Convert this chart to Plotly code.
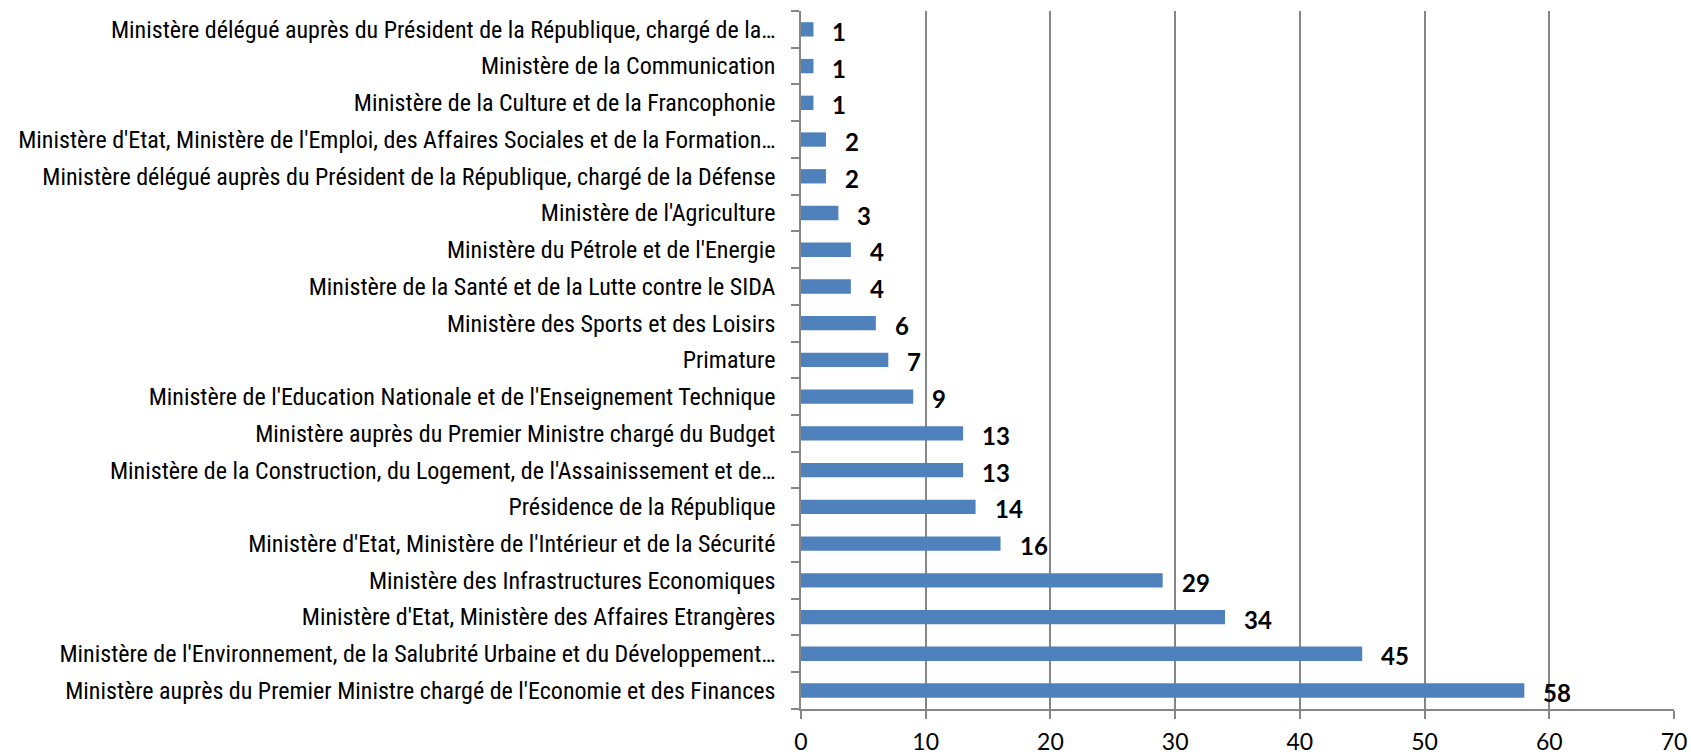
import plotly.graph_objects as go

categories = [
    "Ministère auprès du Premier Ministre chargé de l'Economie et des Finances",
    "Ministère de l'Environnement, de la Salubrité Urbaine et du Développement…",
    "Ministère d'Etat, Ministère des Affaires Etrangères",
    "Ministère des Infrastructures Economiques",
    "Ministère d'Etat, Ministère de l'Intérieur et de la Sécurité",
    "Présidence de la République",
    "Ministère de la Construction, du Logement, de l'Assainissement et de…",
    "Ministère auprès du Premier Ministre chargé du Budget",
    "Ministère de l'Education Nationale et de l'Enseignement Technique",
    "Primature",
    "Ministère des Sports et des Loisirs",
    "Ministère de la Santé et de la Lutte contre le SIDA",
    "Ministère du Pétrole et de l'Energie",
    "Ministère de l'Agriculture",
    "Ministère délégué auprès du Président de la République, chargé de la Défense",
    "Ministère d'Etat, Ministère de l'Emploi, des Affaires Sociales et de la Formation…",
    "Ministère de la Culture et de la Francophonie",
    "Ministère de la Communication",
    "Ministère délégué auprès du Président de la République, chargé de la…",
]
values = [58, 45, 34, 29, 16, 14, 13, 13, 9, 7, 6, 4, 4, 3, 2, 2, 1, 1, 1]
x_ticks = [0, 10, 20, 30, 40, 50, 60, 70]

fig = go.Figure()
fig.add_trace(go.Bar(
    y=categories, x=values, orientation="h",
    marker=dict(color="#4F81BD", line=dict(width=0)),
    width=0.39,
    hoverinfo="x+y",
))

for c, v in zip(categories, values):
    fig.add_annotation(
        x=v, y=c, text="<b>%d</b>" % v, showarrow=False,
        xanchor="left", yanchor="middle", xshift=17, yshift=-2,
        font=dict(family="Lato, Open Sans, sans-serif", size=24, color="#000000"),
    )

fig.update_layout(
    width=1691, height=755,
    margin=dict(l=801, r=17, t=11, b=46),
    plot_bgcolor="white", paper_bgcolor="white",
    showlegend=False,
)
fig.update_xaxes(
    range=[0, 70], tickvals=x_ticks, ticktext=[str(t) for t in x_ticks],
    showgrid=True, gridcolor="#868686", gridwidth=1.5,
    showline=True, linecolor="#868686", linewidth=1.5,
    ticks="outside", ticklen=8, tickcolor="#868686", tickwidth=1.5,
    tickfont=dict(family="Lato, Open Sans, sans-serif", size=23, color="#000000"),
    ticklabelstandoff=4,
    zeroline=False, automargin=False,
)
fig.update_yaxes(
    type="category", tickson="boundaries",
    showgrid=False, showline=True, linecolor="#868686", linewidth=1.5,
    ticks="outside", ticklen=8, tickcolor="#868686", tickwidth=1.5,
    tickfont=dict(family="Liberation Sans Narrow, Arial Narrow, Roboto Condensed, sans-serif", size=24, color="#000000"),
    ticklabelstandoff=19, automargin=False,
)

fig.write_html(
    "out.html",
    config={"displayModeBar": False},
    post_script="document.body.style.margin='0px';document.body.style.overflow='hidden';",
)
